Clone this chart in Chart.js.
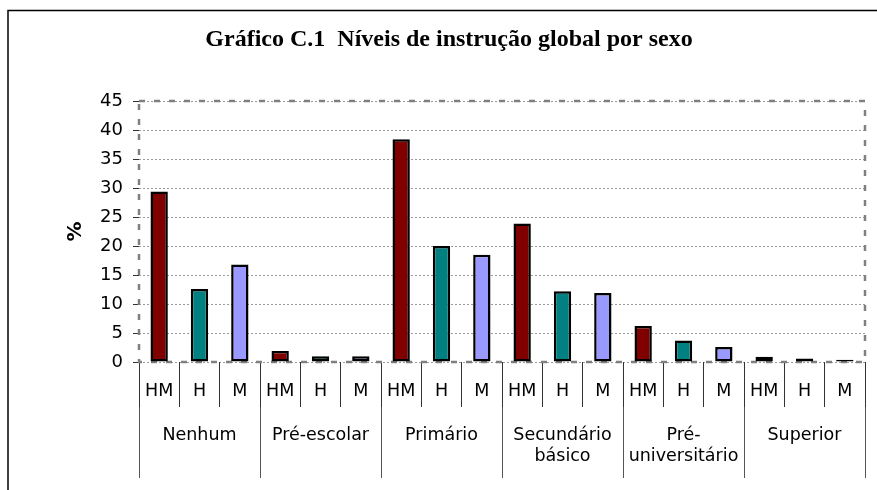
<!DOCTYPE html>
<html><head><meta charset="utf-8">
<script src="https://cdn.jsdelivr.net/npm/chart.js@4"></script>
<style>html,body{margin:0;padding:0;background:#fff}#wrap{width:877px;height:490px;position:relative}</style>
</head><body><div id="wrap"><canvas id="c"></canvas></div>
<script>
const chartTitle = 'Gráfico C.1  Níveis de instrução global por sexo';
const categories = ['Nenhum', 'Pré-escolar', 'Primário', ['Secundário', 'básico'], ['Pré-', 'universitário'], 'Superior'];
const sexLabels = ['HM', 'H', 'M'];
const valuesHM = [29.4, 1.9, 38.4, 23.9, 6.2, 0.9];
const valuesH  = [12.6, 1.0, 20.0, 12.2, 3.7, 0.6];
const valuesM  = [16.8, 1.0, 18.5, 11.9, 2.6, 0.4];
const yMin = 0, yMax = 45, yStep = 5;
const sexColors = ['#800000', '#008080', '#9999FF'];

const labels = categories.flatMap(() => sexLabels);
const data = categories.flatMap((_, i) => [valuesHM[i], valuesH[i], valuesM[i]]);
const colors = categories.flatMap(() => sexColors);

const FONT = 'DejaVu Sans';

const framePlugin = {
  id: 'frame',
  beforeDatasetsDraw(chart) {
    const {ctx, chartArea: a} = chart;
    ctx.save();
    ctx.strokeStyle = '#808080';
    ctx.lineWidth = 2.5;
    ctx.setLineDash([6, 9]);
    ctx.strokeRect(a.left, a.top, a.right - a.left, a.bottom - a.top);
    ctx.restore();
  },
  afterDraw(chart) {
    const ctx = chart.ctx;
    ctx.save();
    ctx.strokeStyle = '#000';
    ctx.lineWidth = 1.5;
    ctx.beginPath();
    ctx.moveTo(8, 490);
    ctx.lineTo(8, 10.5);
    ctx.lineTo(877, 10.5);
    ctx.stroke();
    ctx.restore();
  }
};

new Chart(document.getElementById('c'), {
  type: 'bar',
  data: {
    labels: labels,
    datasets: [{
      data: data,
      backgroundColor: colors,
      borderColor: '#000',
      borderWidth: 2.5,
      borderSkipped: false,
      barPercentage: 0.43,
      categoryPercentage: 1.0
    }]
  },
  options: {
    responsive: true,
    maintainAspectRatio: false,
    animation: false,
    layout: {padding: {left: 33, right: 12, top: 0, bottom: 12}},
    plugins: {
      legend: {display: false},
      tooltip: {enabled: false},
      title: {
        display: true,
        text: chartTitle,
        color: '#000',
        font: {family: 'Liberation Serif', size: 24, weight: 'bold'},
        padding: {top: 25.6, bottom: 46.6}
      }
    },
    scales: {
      y: {
        min: yMin, max: yMax,
        afterFit(scale) { scale.width = 106; },
        ticks: {stepSize: yStep, color: '#000', font: {family: FONT, size: 18}, padding: 10},
        grid: {color: '#9a9a9a', lineWidth: 1, tickLength: 6, tickColor: '#333', tickBorderDash: [], drawTicks: true},
        border: {display: false, dash: [2, 2]},
        title: {display: true, text: '%', color: '#000', font: {family: FONT, size: 20, weight: 'bold'}, padding: {top: 31, bottom: 0}}
      },
      x: {
        weight: 0,
        offset: true,
        afterFit(scale) { scale.height = 45; },
        ticks: {color: '#000', font: {family: FONT, size: 17.5}, padding: -26, maxRotation: 0, minRotation: 0, autoSkip: false},
        grid: {offset: true, drawOnChartArea: false, tickLength: 45, color: '#333', lineWidth: 1},
        border: {display: false}
      },
      x2: {
        type: 'category',
        position: 'bottom',
        weight: 1,
        labels: categories,
        offset: true,
        afterFit(scale) { scale.height = 71; },
        ticks: {color: '#000', font: {family: FONT, size: 17.5}, padding: -53, maxRotation: 0, minRotation: 0, autoSkip: false},
        grid: {offset: true, drawOnChartArea: false, tickLength: 71, color: '#555', lineWidth: 1},
        border: {display: false}
      }
    }
  },
  plugins: [framePlugin]
});
</script>
</body></html>
